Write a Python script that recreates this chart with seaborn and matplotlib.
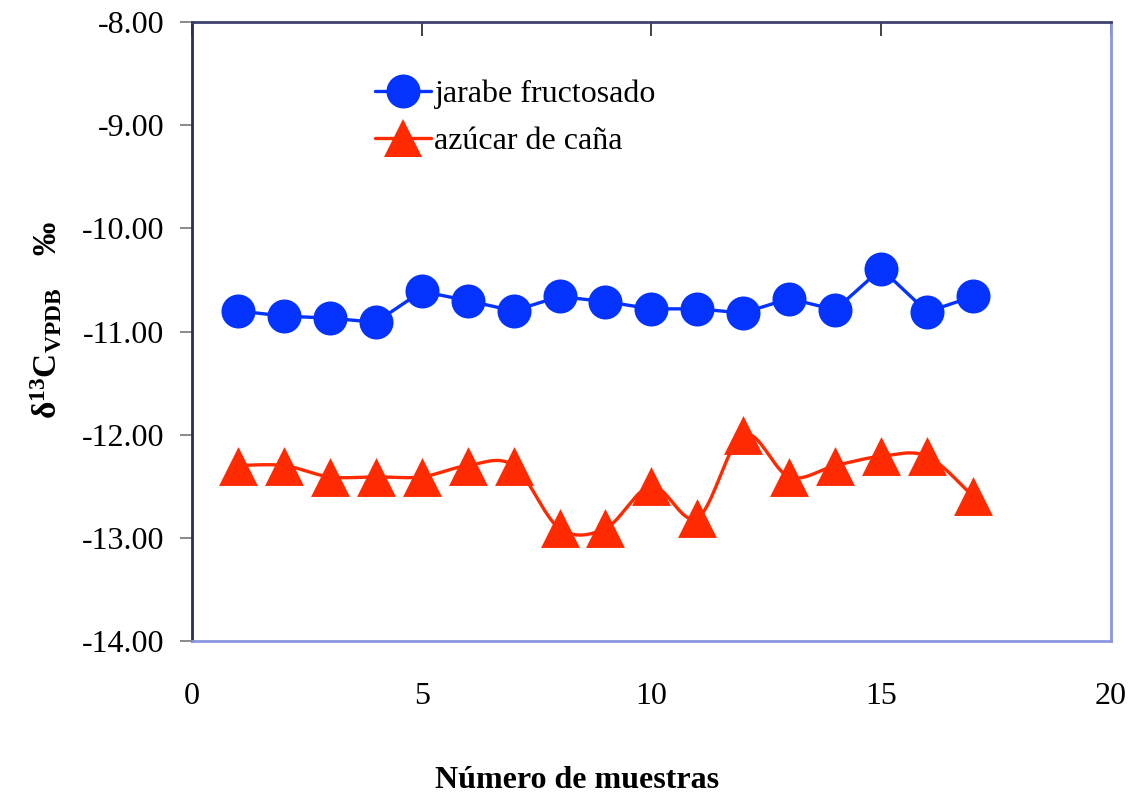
import numpy as np
import pandas as pd
import matplotlib
matplotlib.use("Agg")
import matplotlib.pyplot as plt
import seaborn as sns

# Sample numbers and delta-13C values (per mil, VPDB)
muestras = list(range(1, 18))
jarabe_fructosado = [-10.80, -10.85, -10.87, -10.91, -10.61, -10.70, -10.80, -10.66, -10.71,
                     -10.78, -10.78, -10.82, -10.68, -10.79, -10.39, -10.81, -10.66]
azucar_cana = [-12.30, -12.30, -12.41, -12.41, -12.41, -12.30, -12.30, -12.91, -12.91,
               -12.50, -12.81, -12.00, -12.41, -12.30, -12.21, -12.21, -12.60]

x_ticks = [0, 5, 10, 15, 20]
y_ticks = [-14.0, -13.0, -12.0, -11.0, -10.0, -9.0, -8.0]

BLUE = "#0433FF"
RED = "#FF2A00"

sns.set_theme(style="white")
plt.rcParams["font.family"] = ["Liberation Serif", "DejaVu Serif"]
plt.rcParams["mathtext.fontset"] = "custom"
plt.rcParams["mathtext.rm"] = "Liberation Serif"
plt.rcParams["mathtext.bf"] = "Liberation Serif:bold"
plt.rcParams["mathtext.it"] = "Liberation Serif:italic"
plt.rcParams["text.color"] = "black"
plt.rcParams["xtick.labelcolor"] = "black"
plt.rcParams["ytick.labelcolor"] = "black"


def smooth_curve(x, y, n=20):
    """Catmull-Rom style smoothing through every point."""
    x = np.asarray(x, float)
    y = np.asarray(y, float)
    px = np.concatenate([[x[0]], x, [x[-1]]])
    py = np.concatenate([[y[0]], y, [y[-1]]])
    xs, ys = [], []
    t = np.linspace(0, 1, n, endpoint=False)
    for i in range(1, len(px) - 2):
        for arr, out in ((px, xs), (py, ys)):
            p0, p1, p2, p3 = arr[i - 1], arr[i], arr[i + 1], arr[i + 2]
            c1 = p1 + (p2 - p0) / 6.0
            c2 = p2 - (p3 - p1) / 6.0
            out.extend((1 - t) ** 3 * p1 + 3 * (1 - t) ** 2 * t * c1
                       + 3 * (1 - t) * t ** 2 * c2 + t ** 3 * p2)
    xs.append(x[-1])
    ys.append(y[-1])
    return np.array(xs), np.array(ys)


df_j = pd.DataFrame({"muestra": muestras, "d13C": jarabe_fructosado})
df_a = pd.DataFrame({"muestra": muestras, "d13C": azucar_cana})

fig = plt.figure(figsize=(11.29, 7.96), dpi=100)
ax = fig.add_axes([0.170, 0.195, 0.814, 0.777])

# Fructose syrup: straight segments with round markers
sns.lineplot(data=df_j, x="muestra", y="d13C", ax=ax, color=BLUE, linewidth=2.4,
             marker="o", markersize=24.5, markeredgewidth=0, markeredgecolor=BLUE,
             label="jarabe fructosado", zorder=3)

# Cane sugar: smoothed line with triangle markers
sx, sy = smooth_curve(muestras, azucar_cana)
ax.plot(sx, sy, color=RED, linewidth=2.4, zorder=2)
sns.scatterplot(data=df_a, x="muestra", y="d13C", ax=ax, color=RED, marker="^",
                s=28 ** 2, linewidth=0, zorder=3)
ax.plot([], [], color=RED, linewidth=2.4, marker="^", markersize=28,
        markeredgewidth=0, label="azúcar de caña")

ax.set_xlim(0, 20)
ax.set_ylim(-14, -8)
ax.set_xticks(x_ticks)
ax.set_xticklabels([str(v) for v in x_ticks])
ax.set_yticks(y_ticks)
ax.set_yticklabels([f"{v:.2f}" for v in y_ticks])
ax.set_xlabel("")
ax.set_ylabel("")

ax.tick_params(axis="x", bottom=False, top=True, labelbottom=True, labeltop=False,
               direction="in", length=10, width=1.2, color="#222222",
               labelsize=23, pad=30)
ax.tick_params(axis="y", left=True, direction="out", length=9, width=1.2,
               color="#777777", labelsize=23, pad=11)

ax.spines["left"].set_color("#2a2d55")
ax.spines["top"].set_color("#3c4170")
ax.spines["right"].set_color("#8a98e0")
ax.spines["bottom"].set_color("#8a98e0")
for s in ax.spines.values():
    s.set_linewidth(2)
    s.set_visible(True)

leg = ax.legend(loc="upper left", bbox_to_anchor=(0.185, 0.928), frameon=False,
                fontsize=23, handlelength=1.75, handletextpad=0.12, labelspacing=0.55,
                borderaxespad=0)

fig.text(577 / 1129, 1 - 780 / 796, "Número de muestras", ha="center", va="center",
         fontsize=23, fontweight="bold")
fig.text(46 / 1129, 1 - 320 / 796, r"$\mathbf{\delta^{13}C_{VPDB}}$    ‰",
         rotation=90, ha="center", va="center", fontsize=24, fontweight="bold")

fig.savefig("out.png", dpi=100, facecolor="white")
